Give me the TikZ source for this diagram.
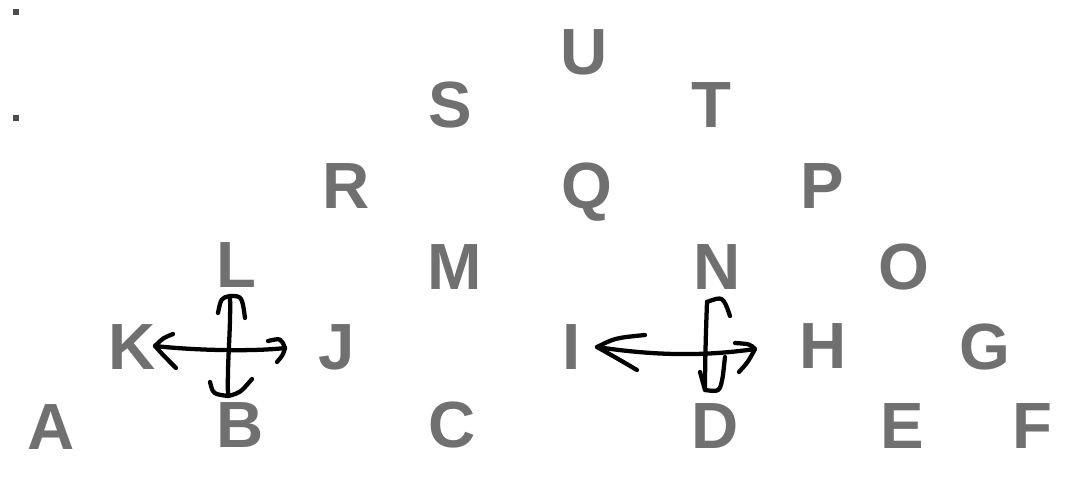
\documentclass[tikz,border=0pt]{standalone}
\usepackage{fontspec}
\setmainfont{Liberation Sans}
\begin{document}
\begin{tikzpicture}[x=0.75pt,y=-0.75pt,
  letter/.style={anchor=base, inner sep=0pt, text=black!56, font=\fontsize{49}{49}\selectfont\bfseries},
  pen/.style={line width=3.2pt, line cap=round, line join=round, draw=black},
  speck/.style={fill=black!70}]
\useasboundingbox (0,0) rectangle (1076,476);
\fill[white] (0,0) rectangle (1076,476);
% specks
\fill[speck] (13,9) rectangle (19,15);
\fill[speck] (13,115) rectangle (19,121);
% letters
\node[letter] (U) at (584,74) {U};
\node[letter] (S) at (450,127) {S};
\node[letter] (T) at (711,127) {T};
\node[letter] (R) at (346,208) {R};
\node[letter] (Q) at (587,208) {Q};
\node[letter] (P) at (822,208) {P};
\node[letter] (L) at (236,287) {L};
\node[letter] (M) at (455,289) {M};
\node[letter] (N) at (717,289) {N};
\node[letter] (O) at (904,289) {O};
\node[letter] (K) at (132,369) {K};
\node[letter] (J) at (337,369) {J};
\node[letter] (I) at (572,369) {I};
\node[letter] (H) at (823,368) {H};
\node[letter] (G) at (985,369) {G};
\node[letter] (A) at (51,449) {A};
\node[letter] (B) at (240,447) {B};
\node[letter] (C) at (452,447) {C};
\node[letter] (D) at (715,448) {D};
\node[letter] (E) at (902,448) {E};
\node[letter] (F) at (1032,448) {F};
% left cross (K <-> J, L <-> B)
\coordinate (kl) at (155,346);
\coordinate (kr) at (285,348);
\coordinate (lt) at (230,296);
\coordinate (lb) at (228,396);
\draw[pen] (kl) .. controls (190,350) and (250,352) .. (kr);
\draw[pen] (173,334) .. controls (163,338) .. (kl) .. controls (163,355) .. (176,368);
\draw[pen] (268,341) .. controls (281,338) .. (kr) .. controls (283,355) .. (277,362);
\draw[pen] (lt) .. controls (231,330) and (227,360) .. (lb);
\draw[pen] (218,313) .. controls (221,298) .. (lt) .. controls (242,296) .. (245,318);
\draw[pen] (210,382) .. controls (213,394) .. (lb) .. controls (240,393) .. (252,379);
% right cross (I <-> H, N <-> D)
\coordinate (il) at (597,347);
\coordinate (hr) at (755,349);
\coordinate (nt) at (707,302);
\coordinate (db) at (705,390);
\draw[pen] (il) .. controls (650,355) and (700,357) .. (hr);
\draw[pen] (645,335) .. controls (615,338) .. (il) .. controls (620,360) .. (637,370);
\draw[pen] (735,343) .. controls (750,344) .. (hr) .. controls (748,362) .. (739,372);
\draw[pen] (nt) .. controls (706,330) and (705,360) .. (db);
\draw[pen] (nt) .. controls (723,296) .. (730,316);
\draw[pen] (700,372) -- (db) .. controls (720,392) .. (723,375) -- (725,357);
\end{tikzpicture}
\end{document}
